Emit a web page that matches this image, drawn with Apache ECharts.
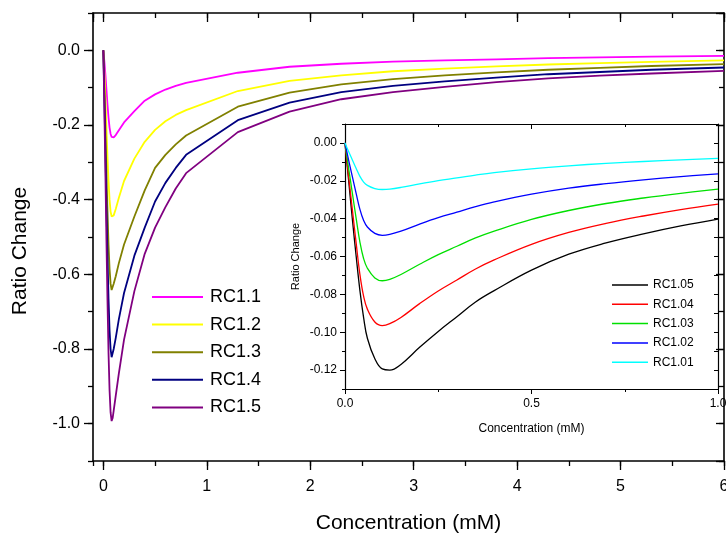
<!DOCTYPE html>
<html>
<head>
<meta charset="utf-8">
<script src="https://cdn.jsdelivr.net/npm/echarts@6/dist/echarts.min.js"></script>
<style>html,body{margin:0;padding:0;background:#fff;}#c{width:726px;height:533px;}</style>
</head>
<body>
<div id="c"></div>
<script>
// ---- Main chart data ----
const mainConc = [0, 0.01, 0.02, 0.03, 0.04, 0.05, 0.06, 0.07, 0.08, 0.09, 0.1, 0.12, 0.15, 0.2, 0.3, 0.4, 0.5, 0.6, 0.7, 0.8, 1.3, 1.8, 2.3, 2.8, 3.3, 3.8, 4.3, 4.8, 5.3, 6.0];
const rc11 = [0, -0.03, -0.065, -0.105, -0.145, -0.18, -0.207, -0.224, -0.232, -0.234, -0.233, -0.227, -0.214, -0.193, -0.163, -0.135, -0.118, -0.105, -0.095, -0.087, -0.060, -0.044, -0.036, -0.030, -0.027, -0.024, -0.021, -0.019, -0.017, -0.015];
const rc12 = [0, -0.06, -0.13, -0.21, -0.285, -0.35, -0.40, -0.432, -0.445, -0.447, -0.442, -0.425, -0.395, -0.35, -0.29, -0.245, -0.213, -0.19, -0.173, -0.16, -0.109, -0.082, -0.067, -0.056, -0.049, -0.043, -0.038, -0.034, -0.031, -0.027];
const rc13 = [0, -0.10, -0.21, -0.33, -0.43, -0.52, -0.585, -0.625, -0.642, -0.638, -0.625, -0.605, -0.57, -0.52, -0.445, -0.375, -0.315, -0.28, -0.252, -0.228, -0.151, -0.113, -0.091, -0.077, -0.067, -0.059, -0.052, -0.047, -0.042, -0.037];
const rc14 = [0, -0.13, -0.27, -0.42, -0.55, -0.665, -0.75, -0.80, -0.822, -0.817, -0.80, -0.77, -0.72, -0.65, -0.55, -0.475, -0.405, -0.355, -0.315, -0.28, -0.187, -0.140, -0.112, -0.095, -0.083, -0.073, -0.064, -0.058, -0.052, -0.046];
const rc15 = [0, -0.16, -0.33, -0.51, -0.67, -0.81, -0.91, -0.97, -0.993, -0.985, -0.965, -0.925, -0.865, -0.775, -0.645, -0.545, -0.475, -0.42, -0.37, -0.329, -0.219, -0.164, -0.131, -0.112, -0.098, -0.085, -0.075, -0.068, -0.062, -0.055];
const mainNames = ['RC1.1', 'RC1.2', 'RC1.3', 'RC1.4', 'RC1.5'];
const mainColors = ['#FF00FF', '#FFFF00', '#808000', '#000080', '#800080'];

// ---- Inset data ----
const insetConc = [0, 0.01, 0.02, 0.03, 0.04, 0.05, 0.06, 0.08, 0.1, 0.12, 0.15, 0.2, 0.25, 0.3, 0.35, 0.4, 0.5, 0.6, 0.7, 0.8, 0.9, 1.0];
const rc105 = [0, -0.0204, -0.0408, -0.060, -0.078, -0.0924, -0.1032, -0.114, -0.1194, -0.120, -0.117, -0.108, -0.0996, -0.0918, -0.084, -0.078, -0.0672, -0.0588, -0.0528, -0.048, -0.0438, -0.0402];
const rc104 = [0, -0.0183, -0.0357, -0.0531, -0.0695, -0.0811, -0.0878, -0.0946, -0.0965, -0.0955, -0.0922, -0.0849, -0.0782, -0.0724, -0.0666, -0.0618, -0.0536, -0.0473, -0.0425, -0.0386, -0.0352, -0.0323];
const rc103 = [0, -0.0138, -0.0269, -0.0400, -0.0524, -0.0612, -0.0662, -0.0713, -0.0728, -0.0721, -0.0695, -0.0641, -0.0590, -0.0546, -0.0502, -0.0466, -0.0404, -0.0357, -0.0320, -0.0291, -0.0266, -0.0244];
const rc102 = [0, -0.0093, -0.0181, -0.0268, -0.0351, -0.0410, -0.0444, -0.0478, -0.0488, -0.0483, -0.0466, -0.0429, -0.0395, -0.0366, -0.0337, -0.0312, -0.0271, -0.0239, -0.0215, -0.0195, -0.0178, -0.0163];
const rc101 = [0, -0.0047, -0.0091, -0.0135, -0.0177, -0.0207, -0.0224, -0.0241, -0.0246, -0.0244, -0.0235, -0.0216, -0.0199, -0.0185, -0.0170, -0.0157, -0.0137, -0.0121, -0.0108, -0.0098, -0.0090, -0.0082];
const insetNames = ['RC1.05', 'RC1.04', 'RC1.03', 'RC1.02', 'RC1.01'];
const insetColors = ['#000000', '#FF0000', '#00E000', '#0000FF', '#00FFFF'];

const FONT = 'Liberation Sans, Arial, Helvetica, sans-serif';
const mainSeriesVals = [rc11, rc12, rc13, rc14, rc15];
const insetSeriesVals = [rc105, rc104, rc103, rc102, rc101];

function aline(w) { return { show: true, onZero: false, lineStyle: { color: '#000', width: w } }; }
const noLine = { show: false, onZero: false };
const noLabel = { show: false };
const noSplit = { show: false };

function tick(len, inside, w) {
  return { show: true, inside: !!inside, length: len, lineStyle: { color: '#000', width: w || 1.3 } };
}

const chart = echarts.init(document.getElementById('c'), null, { renderer: 'canvas' });

const series = [];
mainNames.forEach((n, k) => {
  series.push({
    name: n, type: 'line', xAxisIndex: 0, yAxisIndex: 0,
    data: mainConc.map((x, i) => [x, mainSeriesVals[k][i]]),
    symbol: 'none', showSymbol: false, smooth: false,
    lineStyle: { color: mainColors[k], width: 1.8 }, itemStyle: { color: mainColors[k] },
    animation: false, z: 2
  });
});
insetNames.forEach((n, k) => {
  series.push({
    name: n, type: 'line', xAxisIndex: 4, yAxisIndex: 4,
    data: insetConc.map((x, i) => [x, insetSeriesVals[k][i]]),
    symbol: 'none', showSymbol: false, smooth: 0.4,
    lineStyle: { color: insetColors[k], width: 1.3 }, itemStyle: { color: insetColors[k] },
    animation: false, z: 3
  });
});

const option = {
  animation: false,
  backgroundColor: '#fff',
  textStyle: { fontFamily: FONT },
  grid: [
    { left: 93, top: 13, right: 2, bottom: 72, containLabel: false, outerBoundsMode: 'none' },
    { left: 345, top: 124, right: 8, bottom: 144, containLabel: false, outerBoundsMode: 'none' }
  ],
  xAxis: [
    { // 0 main bottom major
      type: 'value', gridIndex: 0, position: 'bottom', min: -0.1, max: 6, splitNumber: 6,
      axisLine: aline(1.6), axisTick: tick(9), splitLine: noSplit,
      axisLabel: { show: true, showMinLabel: false, margin: 18, fontSize: 16, color: '#000', fontFamily: FONT },
      name: 'Concentration (mM)', nameLocation: 'middle', nameGap: 52,
      nameTextStyle: { fontSize: 21, color: '#000', fontFamily: FONT }
    },
    { // 1 main bottom minor
      type: 'value', gridIndex: 0, position: 'bottom', min: -0.1, max: 6, splitNumber: 12,
      axisLine: noLine, axisTick: tick(5), axisLabel: noLabel, splitLine: noSplit
    },
    { // 2 main top major
      type: 'value', gridIndex: 0, position: 'top', min: -0.1, max: 6, splitNumber: 6,
      axisLine: aline(1.6), axisTick: tick(9, true), axisLabel: noLabel, splitLine: noSplit
    },
    { // 3 main top minor
      type: 'value', gridIndex: 0, position: 'top', min: -0.1, max: 6, splitNumber: 12,
      axisLine: noLine, axisTick: tick(5, true), axisLabel: noLabel, splitLine: noSplit
    },
    { // 4 inset bottom
      type: 'value', gridIndex: 1, position: 'bottom', min: 0, max: 1, interval: 0.5,
      axisLine: aline(1.2),
      axisTick: tick(5, false, 1),
      minorTick: { show: true, splitNumber: 2, length: 3, lineStyle: { color: '#000', width: 1 } },
      splitLine: noSplit,
      axisLabel: { show: true, margin: 9, fontSize: 12, color: '#000', fontFamily: FONT, formatter: v => v.toFixed(1) },
      name: 'Concentration (mM)', nameLocation: 'middle', nameGap: 34,
      nameTextStyle: { fontSize: 12, color: '#000', fontFamily: FONT }
    },
    { // 5 inset top
      type: 'value', gridIndex: 1, position: 'top', min: 0, max: 1, interval: 0.5,
      axisLine: aline(1.2),
      axisTick: tick(5, true, 1),
      minorTick: { show: true, splitNumber: 2, length: 3, lineStyle: { color: '#000', width: 1 } },
      axisLabel: noLabel, splitLine: noSplit
    }
  ],
  yAxis: [
    { // 0 main left major
      type: 'value', gridIndex: 0, position: 'left', min: -1.1, max: 0.1, splitNumber: 6,
      axisLine: aline(1.6), axisTick: tick(9), splitLine: noSplit,
      axisLabel: { show: true, showMinLabel: false, showMaxLabel: false, margin: 13, fontSize: 16, color: '#000', fontFamily: FONT,
        formatter: v => (Math.abs(v) < 1e-9 ? 0 : v).toFixed(1) }
    },
    { // 1 main left minor
      type: 'value', gridIndex: 0, position: 'left', min: -1.1, max: 0.1, interval: 0.1,
      axisLine: noLine, axisTick: tick(5), axisLabel: noLabel, splitLine: noSplit
    },
    { // 2 main right major
      type: 'value', gridIndex: 0, position: 'right', min: -1.1, max: 0.1, splitNumber: 6,
      axisLine: aline(1.6), axisTick: tick(8, true), axisLabel: noLabel, splitLine: noSplit
    },
    { // 3 main right minor
      type: 'value', gridIndex: 0, position: 'right', min: -1.1, max: 0.1, interval: 0.1,
      axisLine: noLine, axisTick: tick(5, true), axisLabel: noLabel, splitLine: noSplit
    },
    { // 4 inset left major
      type: 'value', gridIndex: 1, position: 'left', min: -0.13, max: 0.01, splitNumber: 7,
      axisLine: aline(1.2),
      axisTick: tick(5, false, 1),
      splitLine: noSplit,
      axisLabel: { show: true, showMinLabel: false, showMaxLabel: false, margin: 8, fontSize: 12, color: '#000', fontFamily: FONT,
        formatter: v => (Math.abs(v) < 1e-9 ? 0 : v).toFixed(2) },
      name: 'Ratio Change', nameLocation: 'middle', nameGap: 44, nameMoveOverlap: false,
      nameTextStyle: { fontSize: 11, color: '#000', fontFamily: FONT }
    },
    { // 5 inset left minor
      type: 'value', gridIndex: 1, position: 'left', min: -0.13, max: 0.01, interval: 0.01,
      axisLine: noLine, axisTick: tick(3, false, 1),
      axisLabel: noLabel, splitLine: noSplit
    },
    { // 6 inset right
      type: 'value', gridIndex: 1, position: 'right', min: -0.13, max: 0.01, interval: 0.01,
      axisLine: aline(1.2),
      axisTick: tick(4, true, 1),
      axisLabel: noLabel, splitLine: noSplit
    }
  ],
  legend: [
    {
      data: mainNames, orient: 'vertical', left: 152, top: 288, icon: 'rect', padding: 0,
      itemWidth: 51, itemHeight: 2, itemGap: 9.6,
      textStyle: { fontSize: 18, color: '#000', fontFamily: FONT, padding: [0, 0, 0, 2] },
      selectedMode: false
    },
    {
      data: insetNames, orient: 'vertical', left: 612, top: 279, icon: 'rect', padding: 0,
      itemWidth: 36, itemHeight: 1.5, itemGap: 7.3,
      textStyle: { fontSize: 12, color: '#000', fontFamily: FONT },
      selectedMode: false
    }
  ],
  graphic: [
    {
      type: 'text', x: 20, y: 251, rotation: Math.PI / 2,
      style: { text: 'Ratio Change', fontSize: 21, fontFamily: FONT, fill: '#000', align: 'center', verticalAlign: 'middle' }
    }
  ],
  series: series
};
chart.setOption(option);
</script>
</body>
</html>
